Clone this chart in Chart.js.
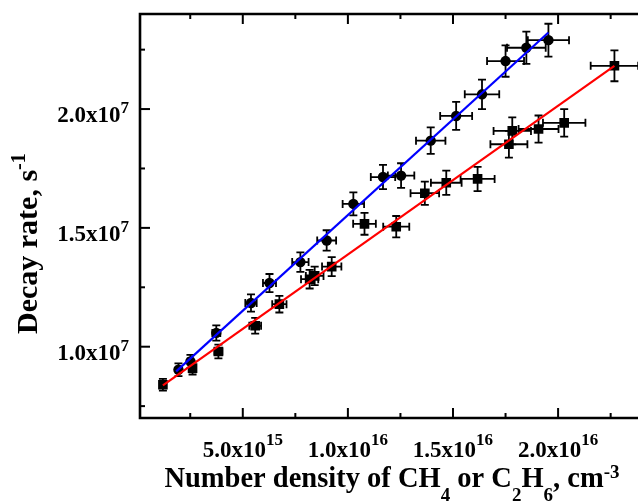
<!DOCTYPE html>
<html>
<head>
<meta charset="utf-8">
<script src="https://cdn.jsdelivr.net/npm/chart.js@4.4.0/dist/chart.umd.min.js"></script>
<style>
  html, body { margin: 0; padding: 0; background: #fff; overflow: hidden; }
  #wrap { width: 638px; height: 502px; overflow: hidden; }
  canvas { display: block; }
</style>
</head>
<body>
<div id="wrap"><canvas id="chart" width="670" height="502"></canvas></div>
<script>
// circles (blue fit)
const circleX  = [1.94e15, 2.51e15, 3.74e15, 5.39e15, 6.27e15, 7.74e15, 8.99e15, 10.26e15,
                  11.67e15, 12.53e15, 13.94e15, 15.15e15, 16.38e15, 17.50e15, 18.49e15, 19.54e15];
const circleY  = [0.903e7, 0.938e7, 1.058e7, 1.184e7, 1.268e7, 1.356e7, 1.447e7, 1.601e7,
                  1.714e7, 1.720e7, 1.867e7, 1.971e7, 2.062e7, 2.202e7, 2.258e7, 2.290e7];
const circleXErr = [0.10e15, 0.13e15, 0.19e15, 0.27e15, 0.31e15, 0.39e15, 0.45e15, 0.51e15,
                    0.58e15, 0.63e15, 0.70e15, 0.76e15, 0.82e15, 0.88e15, 0.92e15, 0.98e15];
const circleYErr = [0.027e7, 0.028e7, 0.032e7, 0.036e7, 0.038e7, 0.041e7, 0.043e7, 0.048e7,
                    0.051e7, 0.052e7, 0.056e7, 0.059e7, 0.062e7, 0.066e7, 0.068e7, 0.069e7];

// squares (red fit)
const squareX  = [1.20e15, 2.61e15, 3.84e15, 5.59e15, 6.74e15, 8.18e15, 8.42e15, 9.23e15, 10.79e15,
                  12.30e15, 13.66e15, 14.68e15, 16.17e15, 17.66e15, 17.82e15, 19.07e15, 20.29e15, 22.68e15];
const squareY  = [0.840e7, 0.910e7, 0.980e7, 1.088e7, 1.179e7, 1.284e7, 1.298e7, 1.337e7, 1.517e7,
                  1.505e7, 1.646e7, 1.690e7, 1.706e7, 1.852e7, 1.908e7, 1.916e7, 1.942e7, 2.182e7];
const squareXErr = [0.06e15, 0.13e15, 0.19e15, 0.28e15, 0.34e15, 0.41e15, 0.42e15, 0.46e15, 0.54e15,
                    0.62e15, 0.68e15, 0.73e15, 0.81e15, 0.88e15, 0.89e15, 0.95e15, 1.01e15, 1.13e15];
const squareYErr = [0.025e7, 0.027e7, 0.029e7, 0.033e7, 0.035e7, 0.039e7, 0.039e7, 0.040e7, 0.046e7,
                    0.045e7, 0.049e7, 0.051e7, 0.051e7, 0.056e7, 0.057e7, 0.057e7, 0.058e7, 0.065e7];

// fitted lines, end points
const blueFitX = [1.83e15, 19.54e15];
const blueFitY = [0.896e7, 2.322e7];
const redFitX  = [1.20e15, 22.68e15];
const redFitY  = [0.837e7, 2.182e7];

// axes
const xMin = 0.11e15, xMax = 2.5e16;
const yMin = 0.70e7,  yMax = 2.40e7;
const xMajorTicks  = [5e15, 1e16, 1.5e16, 2e16];
const xMajorLabels = [['5.0x10', '15'], ['1.0x10', '16'], ['1.5x10', '16'], ['2.0x10', '16']];
const xMinorTicks  = [2.5e15, 7.5e15, 1.25e16, 1.75e16, 2.25e16];
const yMajorTicks  = [1e7, 1.5e7, 2e7];
const yMajorLabels = [['1.0x10', '7'], ['1.5x10', '7'], ['2.0x10', '7']];
const yMinorTicks  = [0.75e7, 1.25e7, 1.75e7, 2.25e7];

const FONT = '"Liberation Serif", "Times New Roman", serif';

const toPts = (xs, ys) => xs.map((x, i) => ({ x, y: ys[i] }));

// error bars drawn below the markers
const errorBars = {
  id: 'errorBars',
  beforeDatasetsDraw(chart) {
    const { ctx, scales: { x, y } } = chart;
    const sets = [[circleX, circleY, circleXErr, circleYErr], [squareX, squareY, squareXErr, squareYErr]];
    const cap = 4;
    ctx.save();
    ctx.strokeStyle = '#000';
    ctx.lineWidth = 1.8;
    sets.forEach(([xs, ys, xe, ye]) => {
      xs.forEach((v, i) => {
        const px = x.getPixelForValue(v), py = y.getPixelForValue(ys[i]);
        const x1 = x.getPixelForValue(v - xe[i]), x2 = x.getPixelForValue(v + xe[i]);
        const y1 = y.getPixelForValue(ys[i] - ye[i]), y2 = y.getPixelForValue(ys[i] + ye[i]);
        ctx.beginPath();
        ctx.moveTo(x1, py); ctx.lineTo(x2, py);
        ctx.moveTo(x1, py - cap); ctx.lineTo(x1, py + cap);
        ctx.moveTo(x2, py - cap); ctx.lineTo(x2, py + cap);
        ctx.moveTo(px, y1); ctx.lineTo(px, y2);
        ctx.moveTo(px - cap, y1); ctx.lineTo(px + cap, y1);
        ctx.moveTo(px - cap, y2); ctx.lineTo(px + cap, y2);
        ctx.stroke();
      });
    });
    ctx.restore();
  }
};

// text with sub/superscripts: parts = [[text, size, dy], ...]
function richWidth(ctx, parts) {
  let w = 0;
  parts.forEach(([t, s]) => { ctx.font = `bold ${s}px ${FONT}`; w += ctx.measureText(t).width; });
  return w;
}
function drawRich(ctx, parts, x, y) {
  let cx = x;
  parts.forEach(([t, s, dy]) => {
    ctx.font = `bold ${s}px ${FONT}`;
    ctx.fillText(t, cx, y + dy);
    cx += ctx.measureText(t).width;
  });
}

// frame, inward ticks, labels and titles
const frameAndText = {
  id: 'frameAndText',
  afterDraw(chart) {
    const { ctx, chartArea: a, scales: { x, y } } = chart;
    ctx.save();
    ctx.strokeStyle = '#000';
    ctx.fillStyle = '#000';

    ctx.lineWidth = 2.6;
    ctx.beginPath();
    ctx.moveTo(a.right + 5, a.top); ctx.lineTo(a.left, a.top);
    ctx.lineTo(a.left, a.bottom); ctx.lineTo(a.right + 5, a.bottom);
    ctx.stroke();

    ctx.lineWidth = 2;
    const tickX = (vals, len) => vals.forEach(v => {
      const px = x.getPixelForValue(v);
      ctx.beginPath();
      ctx.moveTo(px, a.bottom); ctx.lineTo(px, a.bottom - len);
      ctx.moveTo(px, a.top); ctx.lineTo(px, a.top + len);
      ctx.stroke();
    });
    const tickY = (vals, len) => vals.forEach(v => {
      const py = y.getPixelForValue(v);
      ctx.beginPath();
      ctx.moveTo(a.left, py); ctx.lineTo(a.left + len, py);
      ctx.stroke();
    });
    tickX(xMajorTicks, 10); tickX(xMinorTicks, 5);
    tickY(yMajorTicks, 10); tickY(yMinorTicks, 5);

    ctx.textBaseline = 'alphabetic';
    ctx.textAlign = 'left';
    xMajorTicks.forEach((v, i) => {
      const parts = [[xMajorLabels[i][0], 23, 0], [xMajorLabels[i][1], 17, -12]];
      const w = richWidth(ctx, parts);
      drawRich(ctx, parts, x.getPixelForValue(v) - w / 2, 457);
    });
    yMajorTicks.forEach((v, i) => {
      const parts = [[yMajorLabels[i][0], 23, 0], [yMajorLabels[i][1], 17, -9]];
      const w = richWidth(ctx, parts);
      drawRich(ctx, parts, 129 - w, y.getPixelForValue(v) + 13);
    });

    const xTitle = [
      ['Number density of CH', 28.5, 0], ['4', 19, 14], [' or C', 28.5, 0], ['2', 19, 14],
      ['H', 28.5, 0], ['6', 19, 14], [', cm', 28.5, 0], ['-3', 19, -9]
    ];
    drawRich(ctx, xTitle, 392 - richWidth(ctx, xTitle) / 2, 487);

    ctx.translate(37, 334);
    ctx.rotate(-Math.PI / 2);
    drawRich(ctx, [['Decay rate, s', 30, 0], ['-1', 20, -12]], 0, 0);
    ctx.restore();
  }
};

new Chart(document.getElementById('chart'), {
  type: 'scatter',
  data: {
    datasets: [
      { type: 'line', data: toPts(blueFitX, blueFitY), borderColor: '#0000ff', borderWidth: 2.2,
        pointRadius: 0, fill: false },
      { type: 'line', data: toPts(redFitX, redFitY), borderColor: '#ff0000', borderWidth: 2.2,
        pointRadius: 0, fill: false },
      { data: toPts(circleX, circleY), pointStyle: 'circle', pointRadius: 5.2,
        pointBackgroundColor: '#000', pointBorderWidth: 0 },
      { data: toPts(squareX, squareY), pointStyle: 'rect', pointRadius: 6.8,
        pointBackgroundColor: '#000', pointBorderWidth: 0 }
    ]
  },
  options: {
    responsive: false,
    animation: false,
    events: [],
    layout: { padding: { left: 140, top: 14, bottom: 84, right: 0 } },
    plugins: { legend: { display: false }, tooltip: { enabled: false } },
    scales: {
      x: { type: 'linear', min: xMin, max: xMax, display: false },
      y: { type: 'linear', min: yMin, max: yMax, display: false }
    }
  },
  plugins: [errorBars, frameAndText]
});
</script>
</body>
</html>
